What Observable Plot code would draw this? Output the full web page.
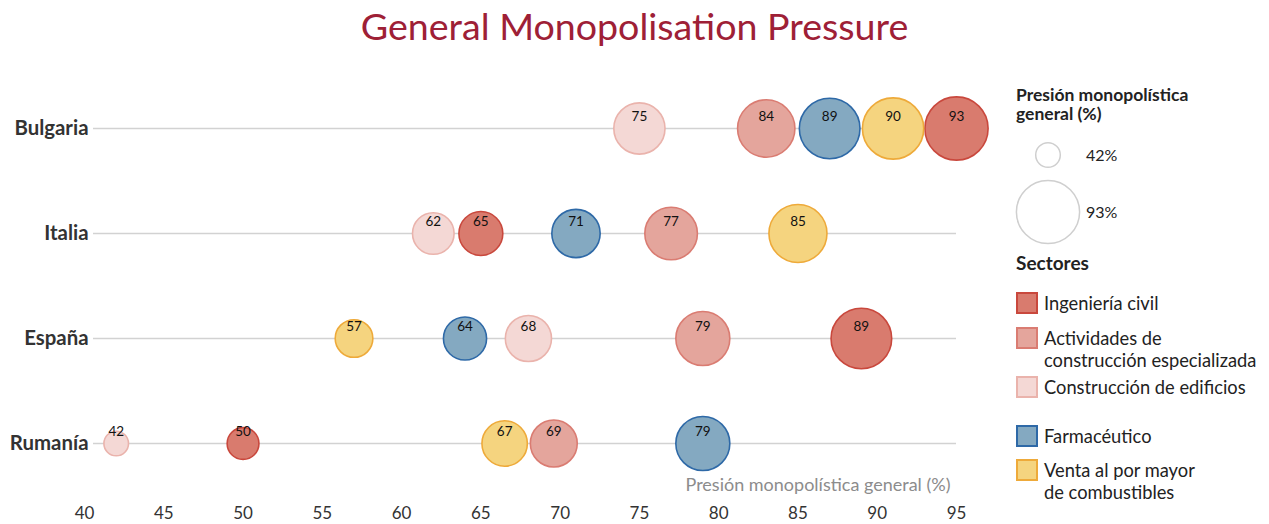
<!DOCTYPE html>
<html><head><meta charset="utf-8">
<script src="https://cdn.jsdelivr.net/npm/d3@7"></script>
<script src="https://cdn.jsdelivr.net/npm/@observablehq/plot@0.6"></script>
<style>
body{margin:0;background:#fff;font-family:Lato,"Noto Sans",sans-serif;}
#wrap{position:relative;width:1269px;height:524px;overflow:hidden;}
#title{position:absolute;left:0;top:3px;width:1269px;text-align:center;font-size:37.6px;line-height:46px;color:#9e2036;}
#chart{position:absolute;left:0;top:60px;}
#legend{position:absolute;left:1016px;top:0;width:253px;height:524px;color:#222;}
.lt{position:absolute;left:0;font-weight:bold;font-size:17.5px;line-height:19px;white-space:nowrap;}
.sz{position:absolute;left:70px;font-size:16px;line-height:18px;}
.sw{position:absolute;left:0;width:18px;height:18px;border:2px solid;}
.sl{position:absolute;left:28px;font-size:18.3px;line-height:22px;white-space:nowrap;}
</style></head>
<body><div id="wrap"><div id="title">General Monopolisation Pressure</div><div id="chart"></div><div id="legend"></div></div>
<script>
// ---- data ----
const countries = ["Bulgaria", "Italia", "España", "Rumanía"];
const sectors = ["Ingeniería civil", "Actividades de construcción especializada", "Construcción de edificios", "Farmacéutico", "Venta al por mayor de combustibles"];
const sectorLabels = [["Ingeniería civil"], ["Actividades de", "construcción especializada"], ["Construcción de edificios"], ["Farmacéutico"], ["Venta al por mayor", "de combustibles"]];
// values per country, in the order of `sectors`
const bulgariaValues = [93, 84, 75, 89, 90];
const italiaValues   = [65, 77, 62, 71, 85];
const espanaValues   = [89, 79, 68, 64, 57];
const rumaniaValues  = [50, 69, 42, 79, 67];
// drawn x position (data units), nudged where bubbles would overlap
const bulgariaPos = [95, 83, 75, 87, 91];
const italiaPos   = [65, 77, 62, 71, 85];
const espanaPos   = [89, 79, 68, 64, 57];
const rumaniaPos  = [50, 69.6, 42, 79, 66.5];
const xTicks = [40, 45, 50, 55, 60, 65, 70, 75, 80, 85, 90, 95];
const sizeLegendValues = [42, 93];
const axisLabel = "Presión monopolística general (%)";

// ---- styles ----
const fills   = ["#d97b6e", "#e4a59c", "#f4d8d5", "#84a9c1", "#f5d47f"];
const strokes = ["#c9483d", "#da7c72", "#eab3ac", "#2e69a7", "#eeaa3a"];

const allValues = [bulgariaValues, italiaValues, espanaValues, rumaniaValues];
const allPos = [bulgariaPos, italiaPos, espanaPos, rumaniaPos];
const data = [];
countries.forEach((c, i) => sectors.forEach((s, j) => data.push({country: c, sector: s, si: j, value: allValues[i][j], pos: allPos[i][j]})));

const rRange = [12.3, 31.6];
const chart = Plot.plot({
  width: 1000, height: 464,
  marginLeft: 84, marginRight: 44, marginTop: 0, marginBottom: 30,
  style: {fontFamily: "Lato, 'Noto Sans', sans-serif", background: "transparent"},
  x: {domain: [40, 95], label: null},
  y: {type: "point", domain: countries, range: [68, 383], padding: 0, axis: null},
  r: {type: "sqrt", domain: [42, 93], range: rRange},
  color: {type: "identity"},
  marks: [
    Plot.ruleY(countries, {y: d => d, stroke: "#d2d2d2", strokeWidth: 1.5, insetLeft: 9}),
    Plot.dot(data, {x: "pos", y: "country", r: "value", fill: d => fills[d.si], stroke: d => strokes[d.si], strokeWidth: 1.6, fillOpacity: 1}),
    Plot.text(data, {x: "pos", y: "country", text: d => String(d.value), dy: -12, fontSize: 13.5, fill: "#111"}),
    Plot.text(countries, {y: d => d, frameAnchor: "left", textAnchor: "end", dx: 4, fontWeight: "bold", fontSize: 20.4, fill: "#333"}),
    Plot.axisX({ticks: xTicks, tickSize: 0, tickPadding: 12, fontSize: 17, fill: "#333", tickFormat: d => String(d), label: null}),
    Plot.text([axisLabel], {frameAnchor: "bottom-right", textAnchor: "end", dx: -6, dy: -4, fontSize: 18, fill: "#8c8c8c"})
  ]
});
document.getElementById("chart").appendChild(chart);

// ---- legend ----
const lg = document.getElementById("legend");
const rScale = d3.scaleSqrt().domain([42, 93]).range(rRange);
lg.insertAdjacentHTML("beforeend", `<div class="lt" style="top:85px">Presión monopolística<br>general (%)</div>`);
const svgNS = "http://www.w3.org/2000/svg";
const sv = document.createElementNS(svgNS, "svg");
sv.setAttribute("width", 70); sv.setAttribute("height", 120);
sv.style.position = "absolute"; sv.style.left = "-2px"; sv.style.top = "132px";
const cys = [23, 80];
sizeLegendValues.forEach((v, i) => {
  const c = document.createElementNS(svgNS, "circle");
  c.setAttribute("cx", 34); c.setAttribute("cy", cys[i]); c.setAttribute("r", rScale(v));
  c.setAttribute("fill", "none"); c.setAttribute("stroke", "#cfcfcf"); c.setAttribute("stroke-width", 1.5);
  sv.appendChild(c);
  lg.insertAdjacentHTML("beforeend", `<div class="sz" style="top:${132 + cys[i] - 9}px">${v}%</div>`);
});
lg.appendChild(sv);
lg.insertAdjacentHTML("beforeend", `<div class="lt" style="top:253px;font-size:19px;line-height:20px">Sectores</div>`);
const swTops = [292, 327, 376, 425, 459];
sectors.forEach((s, j) => {
  lg.insertAdjacentHTML("beforeend", `<div class="sw" style="top:${swTops[j]}px;background:${fills[j]};border-color:${strokes[j]}"></div>`);
  lg.insertAdjacentHTML("beforeend", `<div class="sl" style="top:${swTops[j]}px">${sectorLabels[j].join("<br>")}</div>`);
});
</script>
</body></html>
